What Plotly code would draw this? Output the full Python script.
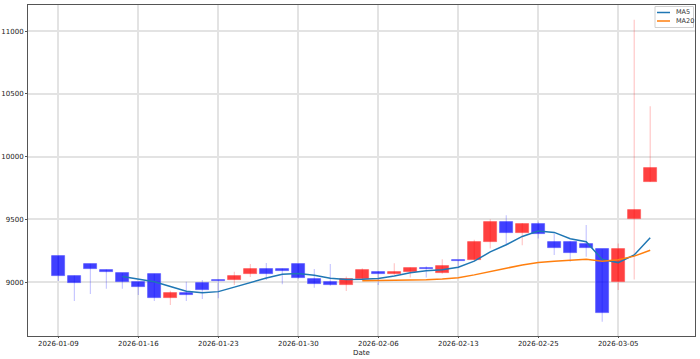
import plotly.graph_objects as go
import pandas as pd

dates = ["2026-01-09", "2026-01-12", "2026-01-13", "2026-01-14", "2026-01-15", "2026-01-16",
         "2026-01-19", "2026-01-20", "2026-01-21", "2026-01-22", "2026-01-23",
         "2026-01-26", "2026-01-27", "2026-01-28", "2026-01-29", "2026-01-30",
         "2026-02-02", "2026-02-03", "2026-02-04", "2026-02-05", "2026-02-06",
         "2026-02-09", "2026-02-10", "2026-02-11", "2026-02-12", "2026-02-13",
         "2026-02-19", "2026-02-20", "2026-02-23", "2026-02-24", "2026-02-25",
         "2026-02-26", "2026-02-27", "2026-03-03", "2026-03-04", "2026-03-05",
         "2026-03-06", "2026-03-09"]
open_ = [9209, 9050, 9143, 9096, 9069, 9000, 9061, 8870, 8910, 8992, 9016,
         9018, 9066, 9103, 9103, 9143, 9021, 8998, 8979, 9024, 9082,
         9066, 9080, 9109, 9069, 9172, 9175, 9321, 9480, 9387, 9462,
         9321, 9321, 9300, 9260, 9002, 9501, 9798]
high = [9212, 9052, 9146, 9100, 9072, 9003, 9066, 8930, 9002, 9016, 9020,
        9082, 9143, 9151, 9108, 9146, 9103, 9143, 9045, 9109, 9088,
        9149, 9115, 9125, 9181, 9175, 9337, 9501, 9533, 9470, 9480,
        9387, 9325, 9454, 9262, 9308, 11091, 10401]
low = [9008, 8849, 8904, 8947, 8947, 8897, 8849, 8817, 8849, 8865, 8870,
       8976, 9040, 9016, 8982, 9026, 8955, 8970, 8928, 9013, 8976,
       9058, 9037, 9037, 9066, 9109, 9172, 9268, 9294, 9294, 9347,
       9215, 9162, 9202, 8684, 8936, 9021, 9798]
close = [9048, 8990, 9101, 9080, 9002, 8958, 8870, 8910, 8897, 8936, 9005,
         9050, 9103, 9066, 9088, 9029, 8987, 8979, 9021, 9093, 9066,
         9082, 9111, 9101, 9130, 9168, 9321, 9480, 9387, 9462, 9382,
         9268, 9228, 9268, 8751, 9260, 9573, 9910]
tick_dates = ["2026-01-09", "2026-01-16", "2026-01-23", "2026-01-30",
              "2026-02-06", "2026-02-13", "2026-02-25", "2026-03-05"]
y_ticks = [9000, 9500, 10000, 10500, 11000]
y_tick_labels = ["9000", "9500", "10000", "10500", "11000"]
ma_names = ["MA5", "MA20"]
ma_colors = ["#1f77b4", "#ff7f0e"]

df = pd.DataFrame({"date": dates, "open": open_, "high": high, "low": low, "close": close})
df["MA5"] = df["close"].rolling(5).mean()
df["MA20"] = df["close"].rolling(20).mean()
up = df["close"] >= df["open"]

fig = go.Figure()

BLUE_BODY = "rgba(0,0,255,0.75)"
RED_BODY = "rgba(255,0,0,0.75)"
BLUE_WICK = "rgba(0,0,255,0.22)"
RED_WICK = "rgba(255,0,0,0.22)"

for mask, wc in [(~up, BLUE_WICK), (up, RED_WICK)]:
    sub = df[mask]
    xs, ys = [], []
    for _, r in sub.iterrows():
        xs += [r["date"], r["date"], None]
        ys += [r["low"], r["high"], None]
    fig.add_trace(go.Scatter(x=xs, y=ys, mode="lines", line=dict(color=wc, width=1.2),
                             showlegend=False, hoverinfo="skip"))

for mask, bc, ec in [(~up, BLUE_BODY, "rgba(90,90,255,0.9)"), (up, RED_BODY, "rgba(255,90,90,0.9)")]:
    sub = df[mask]
    base = sub[["open", "close"]].min(axis=1)
    height = (sub["close"] - sub["open"]).abs().clip(lower=6)
    fig.add_trace(go.Bar(x=sub["date"], y=height, base=base, width=0.8,
                         marker=dict(color=bc, line=dict(color=ec, width=0.8)),
                         showlegend=False))

for name, col in zip(ma_names, ma_colors):
    fig.add_trace(go.Scatter(x=df["date"], y=df[name], mode="lines", name=name,
                             line=dict(color=col, width=1.5), showlegend=False))

# plot area in pixels: x 28..695, y 5..336
L, R, T, B = 28, 695, 5, 336
W, H = R - L, B - T
def px(x):
    return (x - L) / W
def py(y):
    return (B - y) / H

# manual legend
fig.add_shape(type="rect", xref="paper", yref="paper",
              x0=px(655), x1=px(693.5), y0=py(27.5), y1=py(6.5),
              line=dict(color="#d0d0d0", width=1), fillcolor="rgba(255,255,255,0.85)")
for i, (name, col) in enumerate(zip(ma_names, ma_colors)):
    yy = 12.5 + i * 8.5
    fig.add_shape(type="line", xref="paper", yref="paper",
                  x0=px(657), x1=px(670), y0=py(yy), y1=py(yy),
                  line=dict(color=col, width=1.5))
    fig.add_annotation(xref="paper", yref="paper", x=px(673.5), y=py(yy), text=name,
                       showarrow=False, xanchor="left", yanchor="middle",
                       font=dict(size=6.5, color="#333"))

fig.add_annotation(xref="paper", yref="paper", x=0.5, y=py(352.5), text="Date",
                   showarrow=False, xanchor="center", yanchor="middle",
                   font=dict(size=7, color="#222"))

fig.update_layout(
    width=700, height=359,
    margin=dict(l=L, r=700 - R, t=T, b=359 - B, autoexpand=False),
    paper_bgcolor="white", plot_bgcolor="white",
    font=dict(family="DejaVu Sans", size=7, color="#222"),
    barmode="overlay",
    bargap=0,
    showlegend=False,
    xaxis=dict(type="category", categoryorder="array", categoryarray=dates,
               range=[-1.9, 39.8], tickmode="array", tickvals=tick_dates, ticktext=tick_dates,
               showgrid=True, gridcolor="#e3e3e3", gridwidth=1.5, automargin=False,
               showline=True, linecolor="#555", linewidth=1, mirror=True,
               ticks="outside", ticklen=1, tickcolor="#555"),
    yaxis=dict(range=[8570, 11208], tickmode="array", tickvals=y_ticks, ticktext=y_tick_labels,
               showgrid=True, gridcolor="#e3e3e3", gridwidth=1.5, zeroline=False, automargin=False,
               showline=True, linecolor="#555", linewidth=1, mirror=True,
               ticks="outside", ticklen=2, tickcolor="#555"),
)

fig.write_html("out.html", config={"displayModeBar": False},
               post_script="document.body.style.margin='0';document.body.style.overflow='hidden';")
